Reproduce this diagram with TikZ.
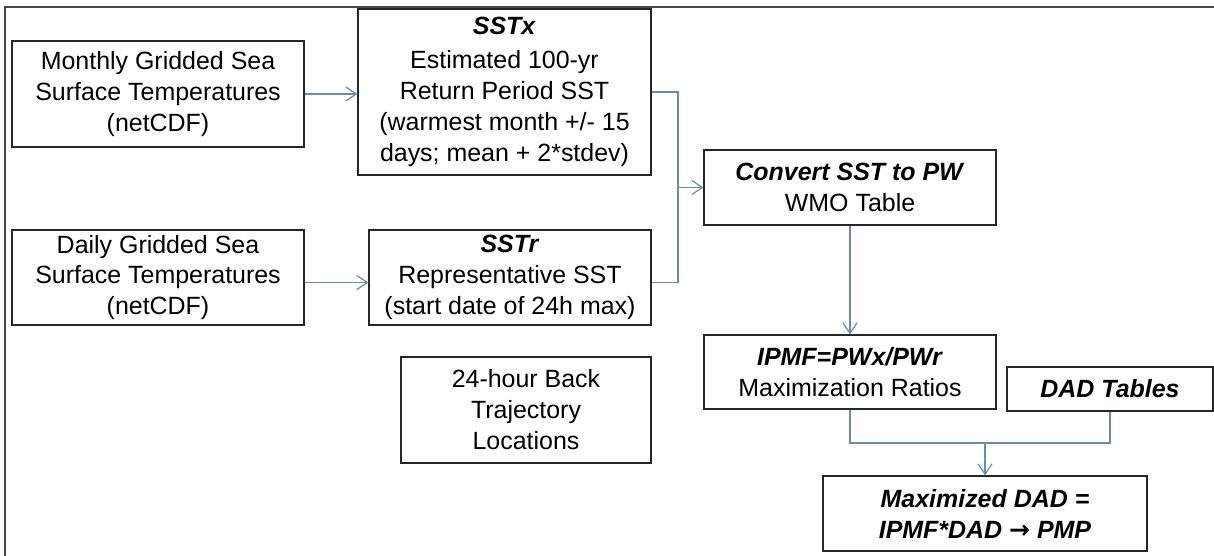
\documentclass[tikz,border=0pt]{standalone}
\usepackage{fontspec}
\setmainfont{Liberation Sans}
\newfontfamily\arrowfont{DejaVu Sans}
\usepackage{xcolor}
\usetikzlibrary{arrows.meta}
\definecolor{linkblue}{RGB}{105, 140, 170}
\definecolor{framegrey}{RGB}{70, 70, 70}
\newcommand{\boxhead}[1]{\textbf{\textit{#1}}}

\begin{document}
\begin{tikzpicture}[
    box/.style={draw=black!85, line width=0.6pt, align=center, inner sep=0pt,
        font=\fontsize{14.2}{17.6}\selectfont},
    link/.style={draw=linkblue, line width=0.7pt},
    tip/.style={-{Straight Barb[length=6pt, width=8pt]}},
]
    \useasboundingbox (0, 0) rectangle (24.28, 11.12);

    % outer frame, only left and top edges show
    \draw[framegrey, line width=1pt] (0.1, 0) -- (0.1, 10.98) -- (24.28, 10.98);

    % gridded inputs
    \node[box, minimum width=5.84cm, minimum height=2.12cm] (monthly) at (3.16, 9.24)
        {Monthly Gridded Sea\\Surface Temperatures\\(netCDF)};
    \node[box, minimum width=5.84cm, minimum height=1.9cm] (daily) at (3.16, 5.57)
        {Daily Gridded Sea\\Surface Temperatures\\(netCDF)};

    % sea surface temperatures
    \node[box, minimum width=5.86cm, minimum height=3.32cm] (sstx) at (10.09, 9.28)
        {\boxhead{SSTx}\\[2pt]Estimated 100-yr\\Return Period SST\\(warmest month +/- 15\\days; mean + 2*stdev)};
    \node[box, minimum width=5.64cm, minimum height=1.9cm] (sstr) at (10.2, 5.57)
        {\boxhead{SSTr}\\Representative SST\\(start date of 24h max)};
    \node[box, minimum width=5.0cm, minimum height=2.12cm] (traj) at (10.52, 2.92)
        {24-hour Back\\Trajectory\\Locations};

    % conversion and ratios
    \node[box, minimum width=5.84cm, minimum height=1.5cm] (convert) at (17.0, 7.37)
        {\boxhead{Convert SST to PW}\\WMO Table};
    \node[box, minimum width=5.84cm, minimum height=1.48cm] (ipmf) at (17.0, 3.68)
        {\boxhead{IPMF=PWx/PWr}\\Maximization Ratios};
    \node[box, minimum width=4.12cm, minimum height=0.88cm] (dadtab) at (22.2, 3.34)
        {\boxhead{DAD Tables}};
    \node[box, minimum width=6.48cm, minimum height=1.5cm] (maxdad) at (19.7, 0.85)
        {\boxhead{Maximized DAD =}\\\boxhead{IPMF*DAD {\arrowfont →} PMP}};

    % connectors
    \draw[link, tip] (monthly.east) -- (sstx.west |- monthly.east);
    \draw[link, tip] ([yshift=-0.1cm]daily.east) -- ([yshift=-0.1cm]daily.east -| sstr.west);

    \coordinate (join) at (13.56, 7.37);
    \draw[link] (sstx.east) -| (join) |- ([yshift=-0.1cm]sstr.east);
    \draw[link, tip] (join) -- (convert.west);

    \draw[link, tip] (convert.south) -- (ipmf.north);

    \coordinate (merge) at (19.7, 2.26);
    \draw[link] (ipmf.south) |- (merge) -| (dadtab.south);
    \draw[link, tip] (merge) -- (maxdad.north);
\end{tikzpicture}
\end{document}
